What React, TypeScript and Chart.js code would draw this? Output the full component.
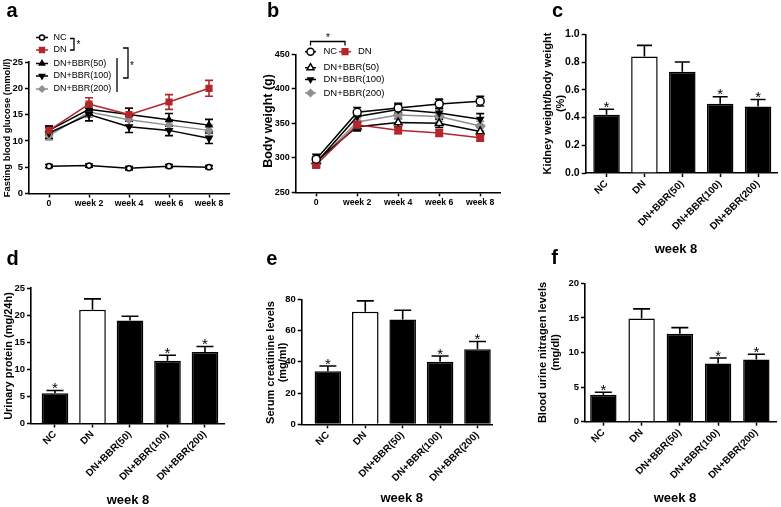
import React, { useEffect, useRef } from 'react';
import { Chart, registerables } from 'chart.js';

Chart.register(...registerables);

const W = 781;
const H = 507;
const FF = '"Liberation Sans", Arial, Helvetica, sans-serif';
const bold = (s: number) => `bold ${s}px ${FF}`;
const normal = (s: number) => `${s}px ${FF}`;
const RED = '#b3262b';
const GRAY = '#8f8f8f';

// ---------------- data ----------------
const timeLabels = ['0', 'week 2', 'week 4', 'week 6', 'week 8'];
const groupLabels = ['NC', 'DN', 'DN+BBR(50)', 'DN+BBR(100)', 'DN+BBR(200)'];

// (a) fasting blood glucose (mmol/l), mean and SEM
const glucoseNC = [5.2, 5.3, 4.8, 5.2, 5.0];
const glucoseNCErr = [0.3, 0.3, 0.3, 0.3, 0.3];
const glucoseDN = [12.0, 17.0, 15.0, 17.4, 20.0];
const glucoseDNErr = [0.8, 1.2, 1.2, 1.4, 1.5];
const glucoseB50 = [12.0, 16.0, 15.0, 14.0, 13.0];
const glucoseB50Err = [0.8, 1.0, 1.2, 1.2, 1.1];
const glucoseB100 = [11.5, 15.0, 12.7, 12.0, 10.5];
const glucoseB100Err = [1.0, 1.2, 1.1, 1.0, 1.0];
const glucoseB200 = [11.0, 15.5, 14.0, 13.0, 12.0];
const glucoseB200Err = [0.8, 1.0, 1.0, 1.0, 1.0];

// (b) body weight (g)
const weightNC = [298, 366, 372, 378, 382];
const weightNCErr = [7, 7, 7, 7, 7];
const weightDN = [290, 348, 340, 336, 329];
const weightDNErr = [5, 6, 5, 5, 5];
const weightB50 = [295, 345, 351, 350, 338];
const weightB50Err = [6, 6, 6, 6, 6];
const weightB100 = [293, 360, 370, 365, 356];
const weightB100Err = [6, 7, 7, 7, 8];
const weightB200 = [292, 352, 362, 360, 346];
const weightB200Err = [6, 6, 6, 7, 7];

// (c) kidney weight / body weight (%)
const kidneyRatio = [0.42, 0.84, 0.73, 0.5, 0.48];
const kidneyRatioErr = [0.04, 0.08, 0.07, 0.05, 0.05];
// (d) urinary protein (mg/24h)
const urinaryProtein = [5.6, 21.0, 19.0, 11.6, 13.2];
const urinaryProteinErr = [0.5, 2.0, 0.8, 1.0, 1.0];
// (e) serum creatinine (mg/ml)
const serumCreatinine = [34, 72, 67, 40, 48];
const serumCreatinineErr = [3.3, 7, 6, 3.7, 5];
// (f) blood urine nitrogen (mg/dl)
const bloodUreaNitrogen = [3.9, 14.9, 12.7, 8.4, 9.0];
const bloodUreaNitrogenErr = [0.35, 1.4, 0.9, 0.8, 0.75];

const starredGroups = [0, 3, 4];
const barFills = ['#000', '#fff', '#000', '#000', '#000'];

// ---------------- helpers ----------------
type Txt = {
  t: string; x: number; y: number; font: string;
  align?: CanvasTextAlign; base?: CanvasTextBaseline; rot?: number; color?: string;
};

function drawMarker(ctx: CanvasRenderingContext2D, style: string, x: number, y: number, r: number, fill: string, stroke: string) {
  ctx.save();
  ctx.beginPath();
  if (style === 'circle') ctx.arc(x, y, r, 0, Math.PI * 2);
  else if (style === 'rect') { const s = r * Math.SQRT1_2; ctx.rect(x - s, y - s, 2 * s, 2 * s); }
  else if (style === 'triangle' || style === 'triDown') {
    const d = style === 'triangle' ? 1 : -1;
    ctx.moveTo(x, y - d * r);
    ctx.lineTo(x + r * 0.866, y + d * r * 0.5);
    ctx.lineTo(x - r * 0.866, y + d * r * 0.5);
    ctx.closePath();
  } else if (style === 'rectRot') {
    ctx.moveTo(x, y - r); ctx.lineTo(x + r, y); ctx.lineTo(x, y + r); ctx.lineTo(x - r, y); ctx.closePath();
  }
  ctx.fillStyle = fill;
  ctx.fill();
  ctx.lineWidth = 1.5;
  ctx.strokeStyle = stroke;
  ctx.stroke();
  ctx.restore();
}

function line(ctx: CanvasRenderingContext2D, pts: number[][], color = '#000', lw = 1.3) {
  ctx.save();
  ctx.beginPath();
  pts.forEach((p, i) => (i ? ctx.lineTo(p[0], p[1]) : ctx.moveTo(p[0], p[1])));
  ctx.strokeStyle = color;
  ctx.lineWidth = lw;
  ctx.stroke();
  ctx.restore();
}

function text(ctx: CanvasRenderingContext2D, o: Txt) {
  ctx.save();
  ctx.font = o.font;
  ctx.fillStyle = o.color || '#000';
  ctx.textAlign = o.align || 'center';
  ctx.textBaseline = o.base || 'middle';
  ctx.translate(o.x, o.y);
  if (o.rot) ctx.rotate((o.rot * Math.PI) / 180);
  ctx.fillText(o.t, 0, 0);
  ctx.restore();
}

type LegendRow = { y: number; label: string; style: string; color: string; fill: string; r: number; x0: number; x1: number; tx: number };

function lineDs(label: string, values: number[], err: number[], color: string, style: string, r: number, fill: string, rot = 0) {
  return {
    label,
    data: values.map((y, i) => ({ x: i, y })),
    err,
    errColor: color,
    borderColor: color,
    backgroundColor: fill,
    pointBackgroundColor: fill,
    pointBorderColor: color,
    pointStyle: style,
    pointRadius: r,
    pointRotation: rot,
    pointBorderWidth: 1.5,
    borderWidth: 1.5,
    tension: 0,
    fill: false,
  };
}

function barDs(values: number[], err: number[], pct: number) {
  return {
    label: 'week 8',
    data: values.map((y, i) => ({ x: i, y })),
    err,
    errColor: '#000',
    backgroundColor: barFills,
    borderColor: '#000',
    borderWidth: 1.5,
    barPercentage: pct,
    categoryPercentage: 1,
  };
}

interface PanelSpec {
  type: 'line' | 'bar';
  area: [number, number, number, number];
  xMin: number; xMax: number;
  yMin: number; yMax: number; yStep: number; yFmt: (v: number) => string; yFont: number;
  xLabels: string[]; rotate: number; xFont: number;
  datasets: any[];
  texts: Txt[];
  legend?: LegendRow[];
  legendFont?: number;
  extra?: (ctx: CanvasRenderingContext2D) => void;
  stars?: number[];
  cap: number;
}

const intFmt = (v: number) => String(Math.round(v));

const PANELS: PanelSpec[] = [
  {
    type: 'line', area: [29, 62, 229, 193.5], xMin: -0.5, xMax: 4.5,
    yMin: 0, yMax: 25, yStep: 5, yFmt: intFmt, yFont: 9.5,
    xLabels: timeLabels, rotate: 0, xFont: 8.7, cap: 4,
    datasets: [
      lineDs('NC', glucoseNC, glucoseNCErr, '#000', 'circle', 2.6, '#fff'),
      lineDs('DN', glucoseDN, glucoseDNErr, RED, 'rect', 4, RED),
      lineDs('DN+BBR(50)', glucoseB50, glucoseB50Err, '#000', 'triangle', 3.5, '#000'),
      lineDs('DN+BBR(100)', glucoseB100, glucoseB100Err, '#000', 'triangle', 3.5, '#000', 180),
      lineDs('DN+BBR(200)', glucoseB200, glucoseB200Err, GRAY, 'rectRot', 3.5, GRAY),
    ],
    texts: [
      { t: 'a', x: 12, y: 16.5, font: bold(20), base: 'alphabetic' },
      { t: 'Fasting blood glucose (mmol/l)', x: 7.8, y: 128, font: bold(9.4), rot: -90 },
      { t: '*', x: 78.5, y: 45.5, font: normal(10) },
      { t: '*', x: 132, y: 66, font: normal(10) },
    ],
    legendFont: 9,
    legend: [
      { y: 37.5, label: 'NC', style: 'circle', color: '#000', fill: '#fff', r: 2.6, x0: 36, x1: 48, tx: 53.5 },
      { y: 50, label: 'DN', style: 'rect', color: RED, fill: RED, r: 3.5, x0: 36, x1: 48, tx: 53.5 },
      { y: 63.5, label: 'DN+BBR(50)', style: 'triangle', color: '#000', fill: '#000', r: 3, x0: 36, x1: 48, tx: 53.5 },
      { y: 76, label: 'DN+BBR(100)', style: 'triDown', color: '#000', fill: '#000', r: 3, x0: 36, x1: 48, tx: 53.5 },
      { y: 89, label: 'DN+BBR(200)', style: 'rectRot', color: GRAY, fill: GRAY, r: 3, x0: 36, x1: 48, tx: 53.5 },
    ],
    extra: (ctx) => {
      line(ctx, [[70, 38.5], [74, 38.5], [74, 50], [70, 50]]);
      line(ctx, [[117, 58], [117, 92]]);
      line(ctx, [[123, 48], [128, 48], [128, 78], [123, 78]]);
    },
  },
  {
    type: 'line', area: [295.7, 54.3, 500.7, 192.3], xMin: -0.5, xMax: 4.5,
    yMin: 250, yMax: 450, yStep: 50, yFmt: intFmt, yFont: 9,
    xLabels: timeLabels, rotate: 0, xFont: 8.7, cap: 4,
    datasets: [
      lineDs('NC', weightNC, weightNCErr, '#000', 'circle', 4, '#fff'),
      lineDs('DN', weightDN, weightDNErr, RED, 'rect', 4.5, RED),
      lineDs('DN+BBR(50)', weightB50, weightB50Err, '#000', 'triangle', 4.5, '#fff'),
      lineDs('DN+BBR(100)', weightB100, weightB100Err, '#000', 'triangle', 3.5, '#000', 180),
      lineDs('DN+BBR(200)', weightB200, weightB200Err, GRAY, 'rectRot', 4.5, GRAY),
    ],
    texts: [
      { t: 'b', x: 273, y: 16.5, font: bold(20), base: 'alphabetic' },
      { t: 'Body weight (g)', x: 269, y: 121, font: bold(12.5), rot: -90 },
      { t: '*', x: 328, y: 38, font: normal(10) },
    ],
    legendFont: 9.5,
    legend: [
      { y: 51.7, label: 'NC', style: 'circle', color: '#000', fill: '#fff', r: 3.5, x0: 305, x1: 316, tx: 323.5 },
      { y: 51.7, label: 'DN', style: 'rect', color: RED, fill: RED, r: 4, x0: 339, x1: 351, tx: 358 },
      { y: 67.7, label: 'DN+BBR(50)', style: 'triangle', color: '#000', fill: '#fff', r: 4, x0: 305, x1: 316, tx: 323.5 },
      { y: 79.5, label: 'DN+BBR(100)', style: 'triDown', color: '#000', fill: '#000', r: 3, x0: 305, x1: 316, tx: 323.5 },
      { y: 93, label: 'DN+BBR(200)', style: 'rectRot', color: GRAY, fill: GRAY, r: 3.5, x0: 305, x1: 316, tx: 323.5 },
    ],
    extra: (ctx) => {
      line(ctx, [[310.5, 45.5], [310.5, 41.5], [345, 41.5], [345, 45.5]]);
    },
  },
  {
    type: 'bar', area: [585.7, 34.3, 777, 173], xMin: -0.55, xMax: 4.5,
    yMin: 0, yMax: 1, yStep: 0.2, yFmt: (v) => v.toFixed(1), yFont: 10.5,
    xLabels: groupLabels, rotate: 45, xFont: 10, cap: 7.5,
    datasets: [barDs(kidneyRatio, kidneyRatioErr, 0.7)],
    stars: starredGroups,
    texts: [
      { t: 'c', x: 557.5, y: 16.5, font: bold(20), base: 'alphabetic' },
      { t: 'Kidney weight/body weight', x: 547.5, y: 103.5, font: bold(11), rot: -90 },
      { t: '(%)', x: 561, y: 103.5, font: bold(11), rot: -90 },
      { t: 'week 8', x: 676, y: 249, font: bold(13) },
    ],
  },
  {
    type: 'bar', area: [31, 288, 224, 423.5], xMin: -0.64, xMax: 4.507,
    yMin: 0, yMax: 25, yStep: 5, yFmt: intFmt, yFont: 9.5,
    xLabels: groupLabels, rotate: 45, xFont: 10, cap: 8.5,
    datasets: [barDs(urinaryProtein, urinaryProteinErr, 0.71)],
    stars: starredGroups,
    texts: [
      { t: 'd', x: 12.5, y: 265, font: bold(20), base: 'alphabetic' },
      { t: 'Urinary protein (mg/24h)', x: 8.7, y: 356, font: bold(11), rot: -90 },
      { t: 'week 8', x: 128, y: 500, font: bold(13) },
    ],
  },
  {
    type: 'bar', area: [301.7, 299.3, 492.7, 424.3], xMin: -0.7, xMax: 4.407,
    yMin: 0, yMax: 80, yStep: 20, yFmt: intFmt, yFont: 9.5,
    xLabels: groupLabels, rotate: 45, xFont: 10, cap: 8.5,
    datasets: [barDs(serumCreatinine, serumCreatinineErr, 0.71)],
    stars: starredGroups,
    texts: [
      { t: 'e', x: 271.7, y: 265, font: bold(20), base: 'alphabetic' },
      { t: 'Serum creatinine levels', x: 270.5, y: 362.5, font: bold(11), rot: -90 },
      { t: '(mg/ml)', x: 283.3, y: 362.5, font: bold(11), rot: -90 },
      { t: 'week 8', x: 401.7, y: 498, font: bold(13) },
    ],
  },
  {
    type: 'bar', area: [585, 283.3, 776.7, 421.7], xMin: -0.48, xMax: 4.532,
    yMin: 0, yMax: 20, yStep: 5, yFmt: intFmt, yFont: 9.5,
    xLabels: groupLabels, rotate: 45, xFont: 10, cap: 8.5,
    datasets: [barDs(bloodUreaNitrogen, bloodUreaNitrogenErr, 0.69)],
    stars: starredGroups,
    texts: [
      { t: 'f', x: 554.5, y: 264, font: bold(20), base: 'alphabetic' },
      { t: 'Blood urine nitragen levels', x: 542.5, y: 352.5, font: bold(11), rot: -90 },
      { t: '(mg/dl)', x: 555.8, y: 352.5, font: bold(11), rot: -90 },
      { t: 'week 8', x: 675, y: 498, font: bold(13) },
    ],
  },
];

const YW = 25;

function drawErrors(chart: any, spec: PanelSpec) {
  const ctx: CanvasRenderingContext2D = chart.ctx;
  const xs = chart.scales.x;
  const ys = chart.scales.y;
  chart.data.datasets.forEach((ds: any) => {
    if (!ds.err) return;
    ctx.save();
    ctx.strokeStyle = ds.errColor;
    ctx.lineWidth = 1.6;
    ds.data.forEach((p: any, i: number) => {
      const x = xs.getPixelForValue(p.x);
      const top = ys.getPixelForValue(p.y + ds.err[i]);
      const bot = spec.type === 'line' ? ys.getPixelForValue(p.y - ds.err[i]) : ys.getPixelForValue(p.y);
      ctx.beginPath();
      ctx.moveTo(x, bot);
      ctx.lineTo(x, top);
      ctx.moveTo(x - spec.cap, top);
      ctx.lineTo(x + spec.cap, top);
      if (spec.type === 'line') {
        ctx.moveTo(x - spec.cap, bot);
        ctx.lineTo(x + spec.cap, bot);
      }
      ctx.stroke();
    });
    ctx.restore();
  });
}

function buildConfig(spec: PanelSpec): any {
  const [L, T, R, B] = spec.area;
  const XH = spec.type === 'bar' ? 76 : 22;
  const font = (s: number) => ({ family: FF, size: s, weight: 'bold' as const });
  const plugin = {
    id: 'panelDecor',
    beforeDatasetsDraw(chart: any) {
      if (spec.type === 'line') drawErrors(chart, spec);
    },
    afterDatasetsDraw(chart: any) {
      if (spec.type === 'bar') drawErrors(chart, spec);
    },
    afterDraw(chart: any) {
      const ctx: CanvasRenderingContext2D = chart.ctx;
      spec.texts.forEach((t) => text(ctx, t));
      (spec.legend || []).forEach((r) => {
        line(ctx, [[r.x0, r.y], [r.x1, r.y]], r.color, 1.5);
        drawMarker(ctx, r.style, (r.x0 + r.x1) / 2, r.y, r.r, r.fill, r.color);
        text(ctx, { t: r.label, x: r.tx, y: r.y, font: normal(spec.legendFont || 9), align: 'left' });
      });
      if (spec.extra) spec.extra(ctx);
      if (spec.stars) {
        const ds: any = chart.data.datasets[0];
        spec.stars.forEach((i) => {
          const p = ds.data[i];
          const x = chart.scales.x.getPixelForValue(p.x);
          const y = chart.scales.y.getPixelForValue(p.y + ds.err[i]);
          text(ctx, { t: '*', x, y: y + 2.5, font: normal(15), base: 'alphabetic' });
        });
      }
    },
  };
  return {
    type: spec.type,
    data: { datasets: spec.datasets },
    plugins: [plugin],
    options: {
      responsive: false,
      animation: false,
      devicePixelRatio: 1,
      events: [],
      layout: { padding: { left: L - YW, top: T, right: W - R, bottom: H - B - XH } },
      plugins: { legend: { display: false }, tooltip: { enabled: false }, title: { display: false } },
      scales: {
        x: {
          type: 'linear',
          min: spec.xMin,
          max: spec.xMax,
          offset: false,
          afterBuildTicks: (s: any) => {
            s.ticks = spec.xLabels.map((_, i) => ({ value: i }));
          },
          afterFit: (s: any) => {
            s.height = XH;
          },
          ticks: {
            autoSkip: false,
            color: '#000',
            font: font(spec.xFont),
            minRotation: spec.rotate,
            maxRotation: spec.rotate,
            padding: 1,
            callback: (_v: any, i: number) => spec.xLabels[i],
          },
          grid: { display: true, drawOnChartArea: false, drawTicks: true, tickLength: 4, tickWidth: 1.5, tickColor: '#000', offset: false },
          border: { display: true, color: '#000', width: 1.6 },
        },
        y: {
          type: 'linear',
          min: spec.yMin,
          max: spec.yMax,
          afterFit: (s: any) => {
            s.width = YW;
          },
          ticks: {
            stepSize: spec.yStep,
            color: '#000',
            font: font(spec.yFont),
            padding: 2,
            callback: (v: any) => spec.yFmt(Number(v)),
          },
          grid: { display: true, drawOnChartArea: false, drawTicks: true, tickLength: 4, tickWidth: 1.5, tickColor: '#000' },
          border: { display: true, color: '#000', width: 1.6 },
        },
      },
    },
  };
}

function Panel({ spec }: { spec: PanelSpec }) {
  const ref = useRef<HTMLCanvasElement>(null);
  useEffect(() => {
    const chart = new Chart(ref.current as HTMLCanvasElement, buildConfig(spec));
    return () => chart.destroy();
  }, [spec]);
  return (
    <canvas
      ref={ref}
      width={W}
      height={H}
      style={{ position: 'absolute', left: 0, top: 0, width: W, height: H }}
    />
  );
}

export default function App() {
  return (
    <div style={{ position: 'absolute', left: 0, top: 0, width: W, height: H, background: '#fff', overflow: 'hidden' }}>
      {PANELS.map((p, i) => (
        <Panel key={i} spec={p} />
      ))}
    </div>
  );
}
